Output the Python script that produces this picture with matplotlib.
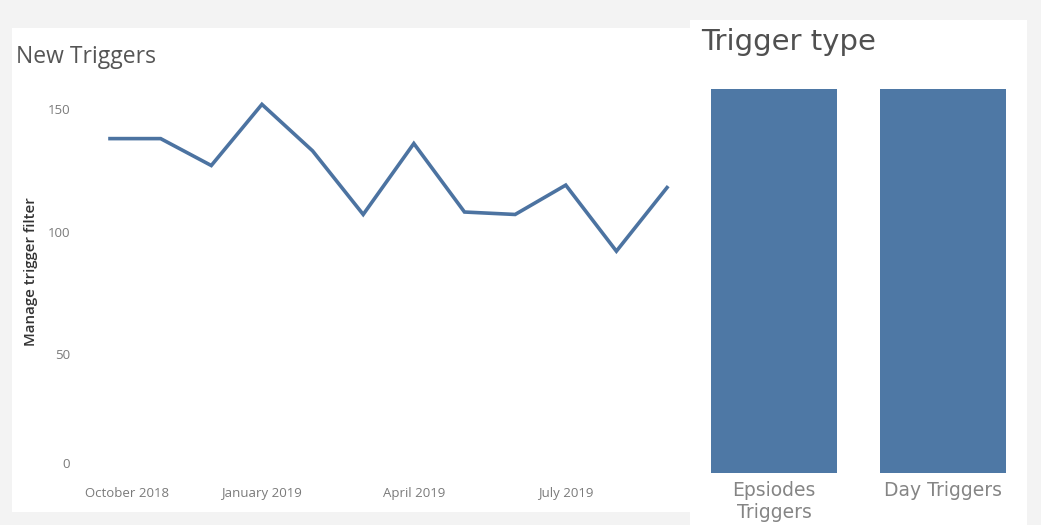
import matplotlib
matplotlib.use("Agg")
import matplotlib.pyplot as plt
from matplotlib.patches import Rectangle
from matplotlib.transforms import ScaledTranslation

# Monthly new triggers, October 2018 - September 2019
months = ["Oct 2018", "Nov 2018", "Dec 2018", "Jan 2019", "Feb 2019", "Mar 2019",
          "Apr 2019", "May 2019", "Jun 2019", "Jul 2019", "Aug 2019", "Sep 2019"]
new_triggers = [138, 138, 127, 152, 133, 107, 136, 108, 107, 119, 92, 118]
month_tick_idx = [0, 3, 6, 9]
month_tick_labels = ["October 2018", "January 2019", "April 2019", "July 2019"]
y_ticks = [0, 50, 100, 150]

# Trigger types
trigger_types = ["Epsiodes\nTriggers", "Day Triggers"]
trigger_counts = [1, 1]

W, H = 1041, 525
DPI = 100
BLUE = "#4e78a5"
LINE_BLUE = "#4c73a1"

fig = plt.figure(figsize=(W / DPI, H / DPI), dpi=DPI)
fig.patch.set_facecolor("#f3f3f3")


def px_rect(x0, y0, x1, y1):
    return [x0 / W, 1 - y1 / H, (x1 - x0) / W, (y1 - y0) / H]


# white dashboard panels
for x0, y0, x1, y1 in [(12, 28, 690, 512), (690, 20, 1027, 525)]:
    fig.patches.append(Rectangle((x0 / W, 1 - y1 / H), (x1 - x0) / W, (y1 - y0) / H,
                                 transform=fig.transFigure, facecolor="white",
                                 edgecolor="none", zorder=-5))

# ---- line chart ----
ax = fig.add_axes(px_rect(80, 90, 690, 476.3))
ax.set_facecolor("none")
x = list(range(len(months)))
ax.plot(x, new_triggers, color=LINE_BLUE, lw=2.6, solid_joinstyle="miter")
px_per_month = 50.64
ax.set_xlim(-30 / px_per_month, 580 / px_per_month)
ax.set_ylim(0, (476.3 - 90) / 2.447)
for s in ax.spines.values():
    s.set_visible(False)
ax.set_xticks(month_tick_idx)
ax.set_xticklabels(month_tick_labels)
ax.set_yticks(y_ticks)
ax.set_yticklabels([str(v) for v in y_ticks])
ax.tick_params(axis="both", length=0, colors="#7a7a7a", labelsize=9.5)
ax.tick_params(axis="x", pad=8)
ax.tick_params(axis="y", pad=7)
for lab in ax.get_xticklabels() + ax.get_yticklabels():
    lab.set_fontfamily("Open Sans")
# keep the first month label and the zero label inside the panel
first = ax.get_xticklabels()[0]
first.set_transform(first.get_transform() + ScaledTranslation(17 / DPI, 0, fig.dpi_scale_trans))
zero = ax.get_yticklabels()[0]
zero.set_transform(zero.get_transform() + ScaledTranslation(0, 13 / DPI, fig.dpi_scale_trans))

ax.set_ylabel("Manage trigger filter", fontsize=10.8, fontfamily="Open Sans",
              fontweight="semibold", color="#333333")
ax.yaxis.set_label_coords(-42 / 610, (476.3 - 272) / 386.3)

fig.text(16 / W, 1 - 63 / H, "New Triggers", fontsize=16.5, fontfamily="Open Sans",
         color="#555555", va="baseline", ha="left")

# ---- bar chart ----
bx = fig.add_axes(px_rect(689.5, 89.3, 1027.5, 473))
bx.set_facecolor("none")
bx.bar(range(len(trigger_types)), trigger_counts, width=126 / 169, color=BLUE)
bx.set_xlim(-0.5, 1.5)
bx.set_ylim(0, max(trigger_counts))
for s in bx.spines.values():
    s.set_visible(False)
bx.set_yticks([])
bx.set_xticks(range(len(trigger_types)))
bx.set_xticklabels(trigger_types, fontsize=13.5, color="#858585",
                   fontfamily="DejaVu Sans", linespacing=1.15)
bx.tick_params(axis="x", length=0, pad=6)

fig.text(701 / W, 1 - 50 / H, "Trigger type", fontsize=21, fontfamily="DejaVu Sans",
         color="#505050", va="baseline", ha="left")

fig.savefig("out.png", dpi=DPI, facecolor=fig.get_facecolor())
